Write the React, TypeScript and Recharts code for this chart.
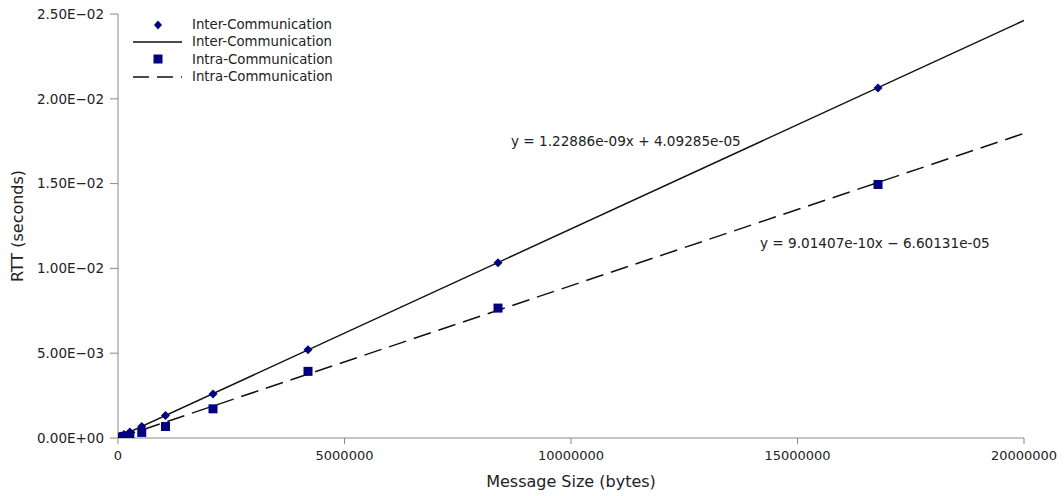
import React from 'react';
import { ComposedChart, Scatter, XAxis, YAxis, ReferenceDot } from 'recharts';

const messageSizes = [32768, 65536, 131072, 262144, 524288, 1048576, 2097152, 4194304, 8388608, 16777216];
const interRtt = [0.000081, 0.00012, 0.0002, 0.00036, 0.00068, 0.00133, 0.00259, 0.00521, 0.01034, 0.02063];
const intraRtt = [0.00003, 0.00005, 0.00008, 0.00014, 0.00033, 0.00068, 0.00172, 0.00393, 0.00766, 0.01495];

// trend line end points, read from the fitted equations
const trendX = [0, 20000000];
const interTrendY = [0.0000409, 0.024618];
const intraTrendY = [0, 0.017962];

const xTicks = [0, 5000000, 10000000, 15000000, 20000000];
const yTicks = [0, 0.005, 0.01, 0.015, 0.02, 0.025];

const interEq = 'y = 1.22886e-09x + 4.09285e-05';
const intraEq = 'y = 9.01407e-10x \u2212 6.60131e-05';

const interPoints = messageSizes.map((x, i) => ({ x, y: interRtt[i] }));
const intraPoints = messageSizes.map((x, i) => ({ x, y: intraRtt[i] }));
const interTrend = trendX.map((x, i) => ({ x, y: interTrendY[i] }));
const intraTrend = trendX.map((x, i) => ({ x, y: intraTrendY[i] }));

const NAVY = '#000080';
const FONT = '"DejaVu Sans", sans-serif';

const fmtExp = (v: number) => {
  if (v === 0) return '0.00E+00';
  const [m, e] = v.toExponential(2).split('e');
  const n = parseInt(e, 10);
  const pad = String(Math.abs(n)).padStart(2, '0');
  return `${m}E${n < 0 ? '\u2212' : '+'}${pad}`;
};

const Diamond = (props: any) => {
  const { cx, cy } = props;
  if (cx == null || cy == null) return null;
  const r = 4.5;
  return <polygon points={`${cx},${cy - r} ${cx + r},${cy} ${cx},${cy + r} ${cx - r},${cy}`} fill={NAVY} />;
};

const Square = (props: any) => {
  const { cx, cy } = props;
  if (cx == null || cy == null) return null;
  return <rect x={cx - 4.5} y={cy - 4.5} width={9} height={9} fill={NAVY} />;
};

const NoDot = () => null;

const legendRows = [
  { label: 'Inter-Communication', kind: 'diamond' },
  { label: 'Inter-Communication', kind: 'solid' },
  { label: 'Intra-Communication', kind: 'square' },
  { label: 'Intra-Communication', kind: 'dashed' },
];

const LegendBox = () => (
  <div style={{ position: 'absolute', left: 132, top: 16, fontFamily: FONT, fontSize: 13.3, color: '#222' }}>
    {legendRows.map((r, i) => (
      <div key={i} style={{ display: 'flex', alignItems: 'center', height: 17.3 }}>
        <svg width={52} height={12} style={{ marginRight: 8 }}>
          {r.kind === 'diamond' && <polygon points="26,1.5 30,6 26,10.5 22,6" fill={NAVY} />}
          {r.kind === 'square' && <rect x={21.5} y={1.5} width={9} height={9} fill={NAVY} />}
          {r.kind === 'solid' && <line x1={1} x2={50} y1={6} y2={6} stroke="#111" strokeWidth={1.5} />}
          {r.kind === 'dashed' && <line x1={1} x2={50} y1={6} y2={6} stroke="#111" strokeWidth={1.5} strokeDasharray="16 8" />}
        </svg>
        <span>{r.label}</span>
      </div>
    ))}
  </div>
);

export default function App() {
  return (
    <div style={{ position: 'absolute', left: 0, top: 0, width: 1064, height: 496, background: '#fff' }}>
      <ComposedChart width={1064} height={496} margin={{ top: 14, right: 40, bottom: 0, left: 0 }}>
        <XAxis
          type="number"
          dataKey="x"
          domain={[0, 20000000]}
          ticks={xTicks}
          allowDataOverflow
          stroke="#888"
          tickSize={6}
          tickMargin={7}
          tick={{ fill: '#222', fontSize: 13, fontFamily: FONT }}
          height={58}
          label={{ value: 'Message Size (bytes)', position: 'insideBottom', offset: 9, fill: '#222', fontSize: 16, fontFamily: FONT }}
        />
        <YAxis
          type="number"
          dataKey="y"
          domain={[0, 0.025]}
          ticks={yTicks}
          allowDataOverflow
          tickFormatter={fmtExp}
          stroke="#888"
          tickSize={8}
          tickMargin={6}
          width={118}
          tick={{ fill: '#222', fontSize: 13.5, fontFamily: FONT }}
          label={{ value: 'RTT (seconds)', angle: -90, position: 'insideLeft', offset: 17, fill: '#222', fontSize: 16, fontFamily: FONT, style: { textAnchor: 'middle' } }}
        />
        <Scatter data={interTrend} shape={NoDot} line={{ stroke: '#111', strokeWidth: 1.5 }} isAnimationActive={false} legendType="none" />
        <Scatter data={intraTrend} shape={NoDot} line={{ stroke: '#111', strokeWidth: 1.5, strokeDasharray: '18 8' }} isAnimationActive={false} legendType="none" />
        <Scatter data={interPoints} shape={Diamond} isAnimationActive={false} />
        <Scatter data={intraPoints} shape={Square} isAnimationActive={false} />
        <ReferenceDot x={8675000} y={0.01751} r={0} ifOverflow="visible"
          label={{ value: interEq, position: 'right', offset: 0, fill: '#222', fontSize: 13.6, fontFamily: FONT }} />
        <ReferenceDot x={14172000} y={0.0115} r={0} ifOverflow="visible"
          label={{ value: intraEq, position: 'right', offset: 0, fill: '#222', fontSize: 13.6, fontFamily: FONT }} />
      </ComposedChart>
      <LegendBox />
    </div>
  );
}
